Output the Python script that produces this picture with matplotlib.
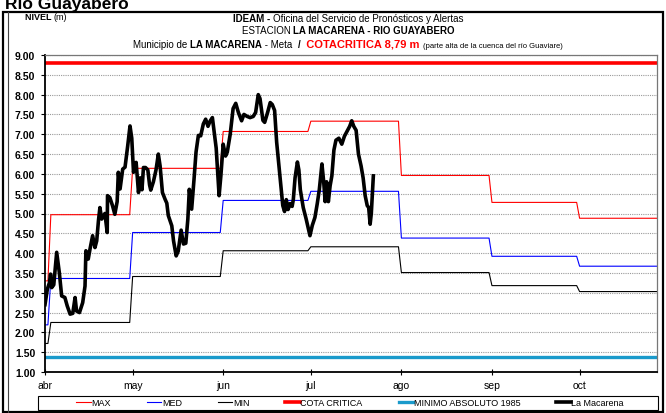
import numpy as np
import matplotlib.pyplot as plt
from matplotlib.lines import Line2D
from matplotlib.patches import Rectangle
from matplotlib.offsetbox import TextArea, HPacker, AnnotationBbox

plt.rcParams['font.family'] = ['Liberation Sans', 'DejaVu Sans']

# eje x en dias contados desde el 1 de abril
meses = ['abr', 'may', 'jun', 'jul', 'ago', 'sep', 'oct']
dia_mes = [0, 30, 61, 91, 122, 153, 183]
dia_fin = 209.5

# curvas de referencia: dia en que cambia el nivel y valor desde ese dia
dia_cambio = [0, 2, 30, 61, 91, 122, 153, 183]
nivel_max = [3.30, 4.97, 6.14, 7.07, 7.33, 5.96, 5.28, 4.88]
nivel_med = [2.19, 3.36, 4.52, 5.33, 5.56, 4.38, 3.92, 3.67]
nivel_min = [1.72, 2.25, 3.41, 4.06, 4.16, 3.51, 3.18, 3.03]
cota_critica = 8.79
minimo_1985 = 1.37

# niveles observados estacion La Macarena
dia_obs = [0.0, 0.3, 0.8, 1.5, 1.9, 2.3, 3.0, 4.0, 4.9, 5.7, 6.8, 7.6, 8.6, 9.5,
           10.3, 10.8, 11.8, 12.9, 13.7, 14.0, 14.8, 15.4, 16.3, 17.1, 17.7, 18.3,
           18.8, 19.4, 20.5, 21.3, 21.4, 22.2, 23.1, 23.9, 24.7, 25.1, 25.7, 26.6,
           27.4, 28.3, 29.1, 29.7, 30.3, 31.2, 32.0, 32.6, 33.2, 33.7, 34.4, 35.2,
           35.8, 36.2, 37.1, 38.0, 38.8, 39.4, 40.2, 41.1, 41.7, 42.2, 43.4, 44.0,
           44.9, 45.6, 46.6, 47.4, 48.2, 48.9, 49.4, 50.2, 51.0, 51.7, 52.5, 53.3,
           54.2, 55.0, 55.8, 56.5, 57.3, 58.0, 58.6, 59.6, 60.2, 61.0, 61.8, 62.4,
           63.4, 64.4, 65.3, 66.2, 67.3, 68.1, 69.2, 70.2, 71.3, 72.1, 73.0, 73.6,
           74.6, 75.2, 76.2, 77.1, 77.8, 78.6, 79.3, 80.5, 81.4, 82.0, 82.6, 83.2,
           83.9, 84.6, 85.0, 85.6, 86.4, 86.9, 87.4, 88.4, 89.4, 90.7, 91.5, 92.4,
           93.2, 93.9, 94.8, 95.4, 95.9, 96.4, 97.0, 97.6, 98.2, 98.9, 99.6, 100.6,
           101.6, 102.5, 103.5, 104.3, 105.0, 105.7, 106.5, 107.3, 108.2, 108.9,
           109.6, 110.3, 110.8, 111.3, 111.7, 112.4]
nivel_obs = [2.70, 2.84, 3.09, 3.25, 3.47, 3.13, 3.20, 4.02, 3.51, 2.92, 2.88, 2.67,
             2.46, 2.48, 2.88, 2.54, 2.50, 2.75, 3.17, 4.06, 3.85, 4.10, 4.44, 4.14,
             4.31, 4.82, 5.15, 4.86, 5.00, 4.52, 5.45, 5.40, 5.20, 4.98, 5.30, 6.04,
             5.62, 6.12, 6.17, 6.70, 7.21, 6.90, 6.04, 6.29, 5.53, 5.90, 5.60, 6.16,
             6.16, 6.10, 5.72, 5.59, 5.80, 6.10, 6.50, 6.20, 5.53, 5.36, 5.26, 4.95,
             4.69, 4.31, 3.93, 4.05, 4.58, 4.23, 4.25, 4.86, 5.61, 5.11, 5.85, 6.55,
             6.97, 6.96, 7.26, 7.38, 7.20, 7.33, 7.42, 7.00, 6.65, 5.45, 5.95, 6.75,
             6.45, 6.55, 7.00, 7.65, 7.78, 7.55, 7.34, 7.50, 7.45, 7.42, 7.45, 7.55,
             8.00, 7.90, 7.35, 7.30, 7.55, 7.80, 7.75, 7.60, 6.80, 5.87, 5.20, 5.05,
             5.35, 5.10, 5.25, 5.18, 5.35, 5.90, 6.30, 6.10, 5.60, 5.15, 4.86, 4.44,
             4.70, 4.90, 5.25, 5.60, 6.25, 5.80, 5.30, 5.80, 5.30, 5.70, 5.95, 6.60,
             6.85, 6.90, 6.75, 6.95, 7.09, 7.20, 7.34, 7.20, 7.10, 6.50, 6.20, 5.90,
             5.45, 5.20, 5.15, 4.73, 5.00, 5.95]

W, H = 666, 414
fig = plt.figure(figsize=(W / 100, H / 100), dpi=100)

# marco exterior (doble linea a la izquierda)
fig.add_artist(Rectangle((3 / W, 1 / H), 660 / W, 400 / H, transform=fig.transFigure,
                         fill=False, edgecolor='black', lw=1.6))
fig.add_artist(Line2D([8 / W, 8 / W], [1 / H, 401 / H], transform=fig.transFigure,
                      color='#444444', lw=0.8))

fig.text(5 / W, 1 - 9 / H, 'Río Guayabero', fontsize=12.5, fontweight='bold', va='baseline')

ax = fig.add_axes([45 / W, 1 - 373 / H, 612 / W, 317 / H])

dias = np.arange(0, 211)
paso = np.searchsorted(dia_cambio, dias, side='right') - 1
ax.plot(dias, np.array(nivel_max)[paso], color='#ff0000', lw=0.8)
ax.plot(dias, np.array(nivel_med)[paso], color='#0000ff', lw=0.8)
ax.plot(dias, np.array(nivel_min)[paso], color='black', lw=0.8)
ax.axhline(cota_critica, color='#ff0000', lw=2.6)
ax.axhline(minimo_1985, color='#1a9acb', lw=2.4)
ax.plot(dia_obs, nivel_obs, color='black', lw=2.6, solid_joinstyle='round')

ax.set_xlim(0, dia_fin)
ax.set_ylim(1, 9)
ax.set_yticks(np.arange(1, 9.01, 0.5))
ax.set_yticklabels(['%.2f' % v for v in np.arange(1, 9.01, 0.5)], fontsize=7.5, fontweight='bold')
ax.set_xticks(dia_mes)
ax.set_xticklabels(meses, fontsize=7.5)
ax.tick_params(axis='y', direction='out', length=3, width=0.8, pad=4)
ax.tick_params(axis='x', direction='inout', length=5, width=0.8, pad=3)
ax.yaxis.grid(True, linestyle=(0, (1, 1)), color='#9a9a9a', lw=0.8)
ax.set_axisbelow(True)
for s in ['left', 'bottom']:
    ax.spines[s].set_linewidth(1.3)
for s in ['top', 'right']:
    ax.spines[s].set_color('#777777')
    ax.spines[s].set_linewidth(0.9)

# encabezado
def linea(partes, y):
    hijos = [TextArea(t, textprops=p) for t, p in partes]
    caja = HPacker(children=hijos, sep=0, pad=0, align='baseline')
    ab = AnnotationBbox(caja, (348 / W, 1 - y / H), xycoords='figure fraction',
                        frameon=False, box_alignment=(0.5, 0.5), pad=0)
    fig.add_artist(ab)

reg = dict(fontsize=7)
neg = dict(fontsize=7, fontweight='bold')
linea([('IDEAM - ', neg), ('Oficina del Servicio de Pronósticos y Alertas', reg)], 18.5)
linea([('ESTACION ', reg), ('LA MACARENA - RIO GUAYABERO', neg)], 31.5)
linea([('Municipio de ', reg), ('LA MACARENA', neg), (' - Meta  ', reg), ('/', neg),
       ('  COTACRITICA 8,79 m ', dict(fontsize=8, fontweight='bold', color='#ff0000')),
       ('(parte alta de la cuenca del río Guaviare)', dict(fontsize=5.5))], 44.5)

caja = HPacker(children=[TextArea('NIVEL ', textprops=dict(fontsize=6.5, fontweight='bold')),
                         TextArea('(m)', textprops=dict(fontsize=6.5))],
               sep=0, pad=0, align='baseline')
fig.add_artist(AnnotationBbox(caja, (25 / W, 1 - 18 / H), xycoords='figure fraction',
                              frameon=False, box_alignment=(0, 0.5), pad=0))

# leyenda
manejadores = [Line2D([], [], color='#ff0000', lw=0.8),
               Line2D([], [], color='#0000ff', lw=0.8),
               Line2D([], [], color='black', lw=0.8),
               Line2D([], [], color='#ff0000', lw=2.6),
               Line2D([], [], color='#1a9acb', lw=2.4),
               Line2D([], [], color='black', lw=2.6)]
etiquetas = ['MAX', 'MED', 'MIN', 'COTA CRITICA', 'MINIMO ABSOLUTO 1985', 'La Macarena']
fig.legend(manejadores, etiquetas, ncol=6, loc='center', bbox_to_anchor=(350 / W, 1 - 404 / H),
           frameon=False, fontsize=6.5, handlelength=1.6, handletextpad=0.05,
           columnspacing=4.0, borderpad=0)
fig.add_artist(Rectangle((37.5 / W, 1 - 411 / H), 620 / W, 14 / H, transform=fig.transFigure,
                         fill=False, edgecolor='black', lw=0.8))

fig.savefig('out.png', dpi=100)
